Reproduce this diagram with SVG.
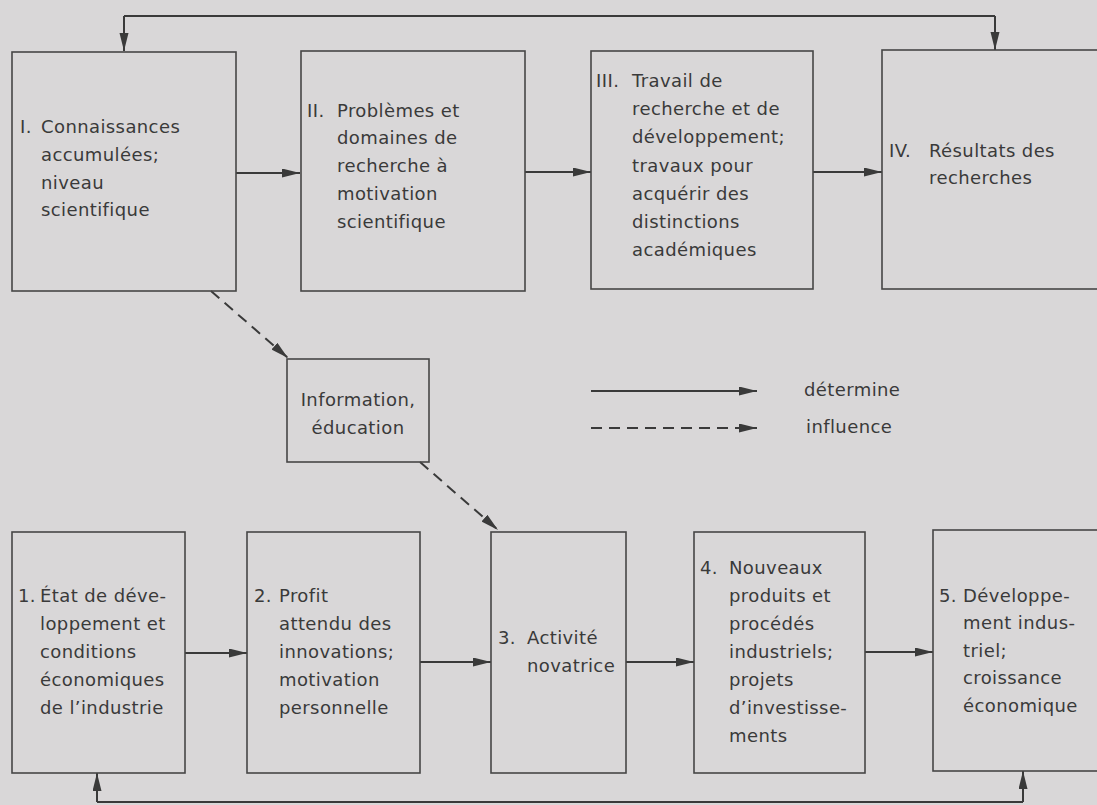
<svg xmlns="http://www.w3.org/2000/svg" width="1097" height="805" viewBox="0 0 1097 805">
<defs>
<marker id="ah" markerUnits="userSpaceOnUse" markerWidth="20" markerHeight="10" refX="18" refY="4.5" orient="auto">
<path d="M0,0 L18,4.5 L0,9 z" fill="#3a3a3a"/>
</marker>
</defs>
<style>
.bg{fill:#d9d7d8}
.box{fill:none;stroke:#464646;stroke-width:1.6}
.t{font-family:"DejaVu Sans","Liberation Sans",sans-serif;font-size:18px;letter-spacing:0.4px;fill:#3a3a3a}
.c{fill:none;stroke:#3a3a3a;stroke-width:2}
.d{fill:none;stroke:#3a3a3a;stroke-width:2;stroke-dasharray:11 7}
</style>
<rect class="bg" x="0" y="0" width="1097" height="805"/>

<g id="connectors">
<path class="c" d="M124,16 L995,16"/>
<path class="c" d="M124,16 L124,51" marker-end="url(#ah)"/>
<path class="c" d="M995,16 L995,50" marker-end="url(#ah)"/>
<path class="c" d="M236,173 L300,173" marker-end="url(#ah)"/>
<path class="c" d="M525,172 L591,172" marker-end="url(#ah)"/>
<path class="c" d="M813,172 L882,172" marker-end="url(#ah)"/>
<path class="c" d="M185,653 L247,653" marker-end="url(#ah)"/>
<path class="c" d="M420,662 L491,662" marker-end="url(#ah)"/>
<path class="c" d="M626,662 L694,662" marker-end="url(#ah)"/>
<path class="c" d="M865,652 L933,652" marker-end="url(#ah)"/>
<path class="c" d="M97,802 L1023,802"/>
<path class="c" d="M97,802 L97,773" marker-end="url(#ah)"/>
<path class="c" d="M1023,802 L1023,771" marker-end="url(#ah)"/>
<path class="d" d="M211,291 L288,358" marker-end="url(#ah)"/>
<path class="d" d="M420,462 L498,530" marker-end="url(#ah)"/>
<path class="c" d="M591,391 L757,391" marker-end="url(#ah)"/>
<path class="d" d="M591,428 L757,428" marker-end="url(#ah)"/>
</g>

<g id="legend">
<text class="t" x="804" y="396">détermine</text>
<text class="t" x="806" y="432.5">influence</text>
</g>

<g id="nodeI">
<rect class="box" x="12" y="52" width="224" height="239"/>
<text class="t"><tspan x="20" y="133">I.</tspan><tspan x="41" y="133">Connaissances</tspan><tspan x="41" y="161">accumulées;</tspan><tspan x="41" y="188.5">niveau</tspan><tspan x="41" y="216">scientifique</tspan></text>
</g>
<g id="nodeII">
<rect class="box" x="301" y="51" width="224" height="240"/>
<text class="t"><tspan x="307" y="116.5">II.</tspan><tspan x="337" y="116.5">Problèmes et</tspan><tspan x="337" y="144">domaines de</tspan><tspan x="337" y="172">recherche à</tspan><tspan x="337" y="199.5">motivation</tspan><tspan x="337" y="227.5">scientifique</tspan></text>
</g>
<g id="nodeIII">
<rect class="box" x="591" y="51" width="222" height="238"/>
<text class="t"><tspan x="596" y="87">III.</tspan><tspan x="632" y="87">Travail de</tspan><tspan x="632" y="115">recherche et de</tspan><tspan x="632" y="143">développement;</tspan><tspan x="632" y="171.5">travaux pour</tspan><tspan x="632" y="199.5">acquérir des</tspan><tspan x="632" y="227.5">distinctions</tspan><tspan x="632" y="255.5">académiques</tspan></text>
</g>
<g id="nodeIV">
<rect class="box" x="882" y="50" width="230" height="239"/>
<text class="t"><tspan x="889" y="157">IV.</tspan><tspan x="929" y="157">Résultats des</tspan><tspan x="929" y="184">recherches</tspan></text>
</g>
<g id="nodeInfo">
<rect class="box" x="287" y="359" width="142" height="103"/>
<text class="t" text-anchor="middle"><tspan x="358" y="406">Information,</tspan><tspan x="358" y="434">éducation</tspan></text>
</g>
<g id="node1">
<rect class="box" x="12" y="532" width="173" height="241"/>
<text class="t"><tspan x="18" y="601.5">1.</tspan><tspan x="40" y="601.5">État de déve-</tspan><tspan x="40" y="629.5">loppement et</tspan><tspan x="40" y="657.5">conditions</tspan><tspan x="40" y="685.5">économiques</tspan><tspan x="40" y="713.5">de l’industrie</tspan></text>
</g>
<g id="node2">
<rect class="box" x="247" y="532" width="173" height="241"/>
<text class="t"><tspan x="254" y="601.5">2.</tspan><tspan x="279" y="601.5">Profit</tspan><tspan x="279" y="629.5">attendu des</tspan><tspan x="279" y="657.5">innovations;</tspan><tspan x="279" y="685.5">motivation</tspan><tspan x="279" y="713.5">personnelle</tspan></text>
</g>
<g id="node3">
<rect class="box" x="491" y="532" width="135" height="241"/>
<text class="t"><tspan x="498" y="644">3.</tspan><tspan x="527" y="644">Activité</tspan><tspan x="527" y="672">novatrice</tspan></text>
</g>
<g id="node4">
<rect class="box" x="694" y="532" width="171" height="241"/>
<text class="t"><tspan x="700" y="574">4.</tspan><tspan x="729" y="574">Nouveaux</tspan><tspan x="729" y="601.5">produits et</tspan><tspan x="729" y="629.5">procédés</tspan><tspan x="729" y="657.5">industriels;</tspan><tspan x="729" y="685.5">projets</tspan><tspan x="729" y="713.5">d’investisse-</tspan><tspan x="729" y="741.5">ments</tspan></text>
</g>
<g id="node5">
<rect class="box" x="933" y="530" width="180" height="241"/>
<text class="t"><tspan x="939" y="601.5">5.</tspan><tspan x="963" y="601.5">Développe-</tspan><tspan x="963" y="629">ment indus-</tspan><tspan x="963" y="656.5">triel;</tspan><tspan x="963" y="684">croissance</tspan><tspan x="963" y="712">économique</tspan></text>
</g>
</svg>
